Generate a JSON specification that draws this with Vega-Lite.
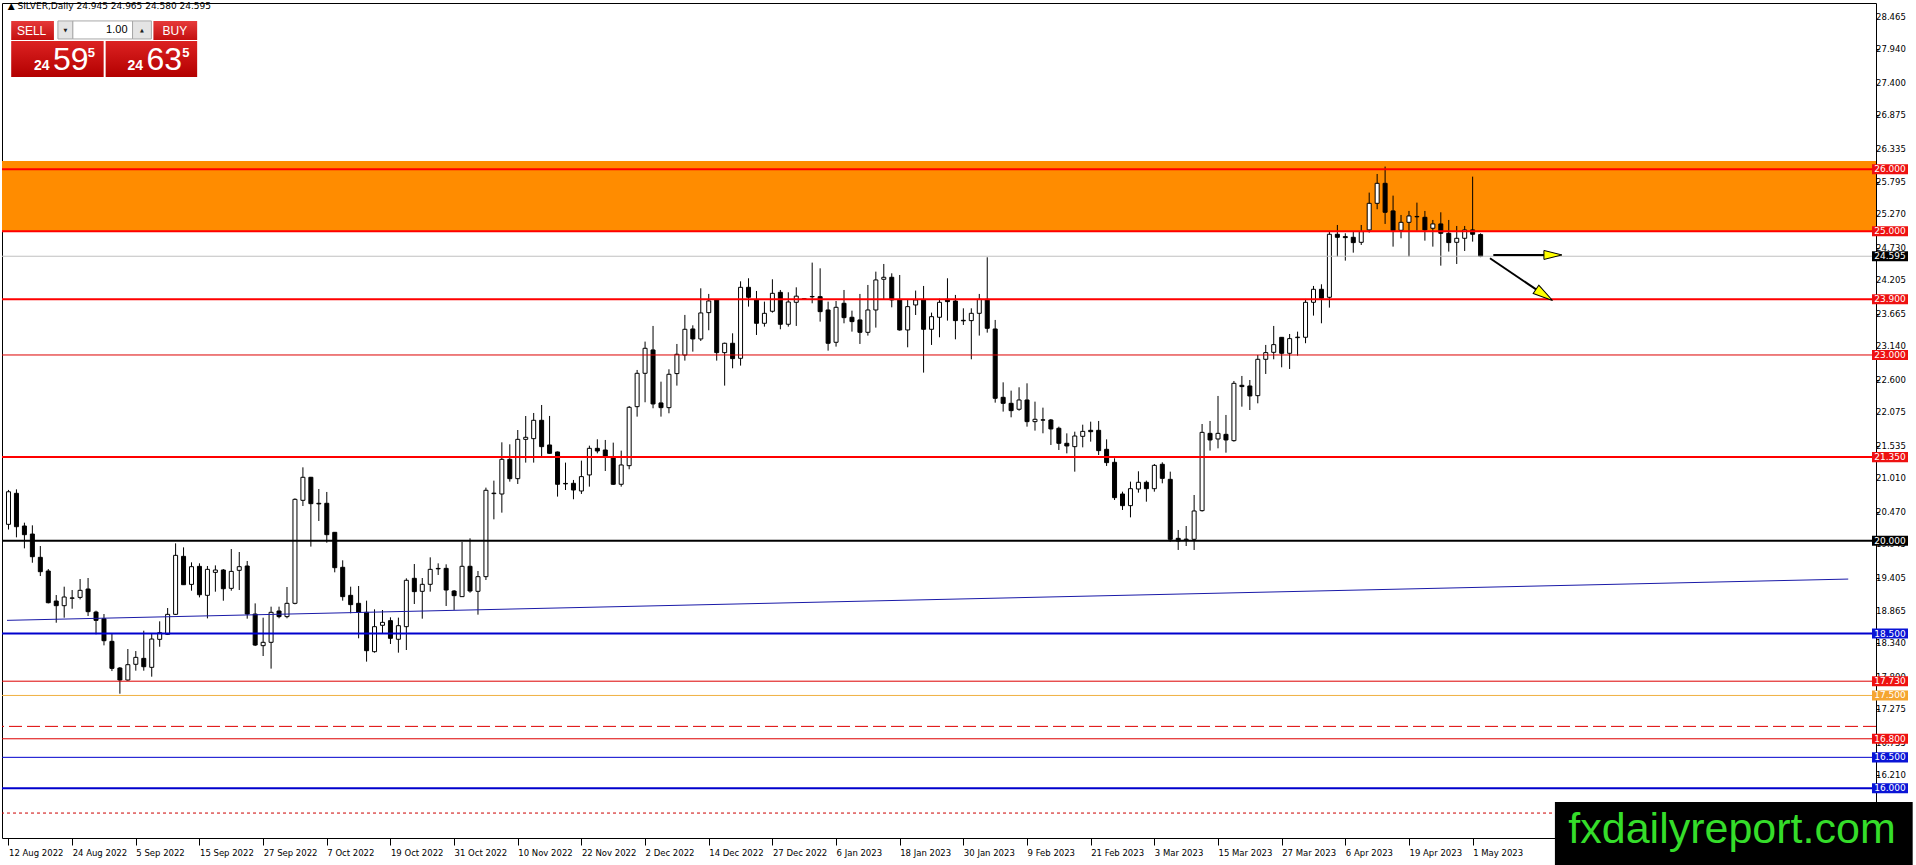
{
  "$schema": "https://vega.github.io/schema/vega-lite/v6.json",
  "width": 1874,
  "height": 835,
  "autosize": {"type": "none"},
  "padding": {"left": 2, "top": 3, "right": 40, "bottom": 27},
  "background": "white",
  "config": {
    "view": {"stroke": "black", "strokeWidth": 1},
    "axis": {"grid": false, "domain": false, "labelFont": "DejaVu Sans", "labelColor": "black", "tickColor": "black", "labelOverlap": false, "labelFlush": false, "labelBound": false},
    "text": {"font": "DejaVu Sans"}
  },
  "datasets": {
    "bars": [
      {"i":0,"o":20.264,"h":20.82,"l":20.18,"c":20.79},
      {"i":1,"o":20.765,"h":20.829,"l":20.054,"c":20.226},
      {"i":2,"o":20.237,"h":20.291,"l":19.876,"c":20.097},
      {"i":3,"o":20.107,"h":20.248,"l":19.644,"c":19.741},
      {"i":4,"o":19.731,"h":19.914,"l":19.429,"c":19.499},
      {"i":5,"o":19.51,"h":19.542,"l":18.987,"c":18.998},
      {"i":6,"o":19.025,"h":19.122,"l":18.675,"c":18.95},
      {"i":7,"o":18.95,"h":19.257,"l":18.756,"c":19.09},
      {"i":8,"o":19.07,"h":19.203,"l":18.901,"c":19.075},
      {"i":9,"o":19.084,"h":19.381,"l":19.052,"c":19.198},
      {"i":10,"o":19.219,"h":19.397,"l":18.783,"c":18.853},
      {"i":11,"o":18.847,"h":18.869,"l":18.487,"c":18.713},
      {"i":12,"o":18.74,"h":18.815,"l":18.309,"c":18.384},
      {"i":13,"o":18.374,"h":18.503,"l":17.894,"c":17.937},
      {"i":14,"o":17.943,"h":17.959,"l":17.528,"c":17.749},
      {"i":15,"o":17.749,"h":18.25,"l":17.738,"c":17.997},
      {"i":16,"o":18.003,"h":18.217,"l":17.9,"c":18.115},
      {"i":17,"o":18.099,"h":18.546,"l":17.9,"c":17.964},
      {"i":18,"o":17.954,"h":18.503,"l":17.803,"c":18.411},
      {"i":19,"o":18.406,"h":18.697,"l":18.287,"c":18.513},
      {"i":20,"o":18.487,"h":18.912,"l":18.476,"c":18.81},
      {"i":21,"o":18.81,"h":19.957,"l":18.799,"c":19.763},
      {"i":22,"o":19.747,"h":19.892,"l":19.284,"c":19.289},
      {"i":23,"o":19.294,"h":19.65,"l":19.192,"c":19.58},
      {"i":24,"o":19.585,"h":19.634,"l":19.084,"c":19.127},
      {"i":25,"o":19.117,"h":19.591,"l":18.745,"c":19.537},
      {"i":26,"o":19.488,"h":19.601,"l":19.176,"c":19.526},
      {"i":27,"o":19.526,"h":19.542,"l":19.03,"c":19.224},
      {"i":28,"o":19.23,"h":19.865,"l":19.192,"c":19.504},
      {"i":29,"o":19.521,"h":19.817,"l":19.203,"c":19.58},
      {"i":30,"o":19.591,"h":19.672,"l":18.74,"c":18.815},
      {"i":31,"o":18.815,"h":18.987,"l":18.298,"c":18.314},
      {"i":32,"o":18.304,"h":18.756,"l":18.137,"c":18.358},
      {"i":33,"o":18.358,"h":18.934,"l":17.933,"c":18.843},
      {"i":34,"o":18.864,"h":18.934,"l":18.746,"c":18.773},
      {"i":35,"o":18.773,"h":19.252,"l":18.746,"c":18.988},
      {"i":36,"o":18.988,"h":20.684,"l":18.972,"c":20.668},
      {"i":37,"o":20.652,"h":21.185,"l":20.56,"c":21.024},
      {"i":38,"o":21.024,"h":21.03,"l":19.904,"c":20.598},
      {"i":39,"o":20.604,"h":20.835,"l":20.318,"c":20.594},
      {"i":40,"o":20.604,"h":20.787,"l":19.968,"c":20.097},
      {"i":41,"o":20.135,"h":20.14,"l":19.489,"c":19.564},
      {"i":42,"o":19.57,"h":19.683,"l":19.031,"c":19.096},
      {"i":43,"o":19.117,"h":19.257,"l":18.827,"c":18.967},
      {"i":44,"o":18.988,"h":19.268,"l":18.423,"c":18.843},
      {"i":45,"o":18.843,"h":19.031,"l":18.046,"c":18.223},
      {"i":46,"o":18.207,"h":18.891,"l":18.191,"c":18.611},
      {"i":47,"o":18.633,"h":18.88,"l":18.503,"c":18.681},
      {"i":48,"o":18.708,"h":18.762,"l":18.331,"c":18.423},
      {"i":49,"o":18.407,"h":18.757,"l":18.191,"c":18.627},
      {"i":50,"o":18.611,"h":19.392,"l":18.234,"c":19.36},
      {"i":51,"o":19.392,"h":19.623,"l":18.977,"c":19.177},
      {"i":52,"o":19.182,"h":19.397,"l":18.74,"c":19.295},
      {"i":53,"o":19.295,"h":19.731,"l":19.177,"c":19.537},
      {"i":54,"o":19.552,"h":19.634,"l":19.446,"c":19.545},
      {"i":55,"o":19.553,"h":19.618,"l":18.945,"c":19.203},
      {"i":56,"o":19.187,"h":19.203,"l":18.881,"c":19.112},
      {"i":57,"o":19.096,"h":19.979,"l":19.09,"c":19.586},
      {"i":58,"o":19.586,"h":20.038,"l":19.16,"c":19.187},
      {"i":59,"o":19.182,"h":19.51,"l":18.805,"c":19.419},
      {"i":60,"o":19.419,"h":20.857,"l":19.365,"c":20.814},
      {"i":61,"o":20.76,"h":20.97,"l":20.345,"c":20.768},
      {"i":62,"o":20.754,"h":21.589,"l":20.453,"c":21.314},
      {"i":63,"o":21.314,"h":21.557,"l":20.954,"c":21.002},
      {"i":64,"o":21.002,"h":21.788,"l":20.916,"c":21.637},
      {"i":65,"o":21.637,"h":22.014,"l":21.261,"c":21.67},
      {"i":66,"o":21.648,"h":22.063,"l":21.261,"c":21.945},
      {"i":67,"o":21.945,"h":22.192,"l":21.368,"c":21.519},
      {"i":68,"o":21.546,"h":22.015,"l":21.405,"c":21.411},
      {"i":69,"o":21.433,"h":21.44,"l":20.712,"c":20.911},
      {"i":70,"o":20.925,"h":21.261,"l":20.819,"c":20.918},
      {"i":71,"o":20.927,"h":20.981,"l":20.669,"c":20.819},
      {"i":72,"o":20.803,"h":21.293,"l":20.755,"c":21.035},
      {"i":73,"o":21.062,"h":21.535,"l":20.873,"c":21.492},
      {"i":74,"o":21.492,"h":21.638,"l":21.411,"c":21.449},
      {"i":75,"o":21.465,"h":21.627,"l":21.126,"c":21.347},
      {"i":76,"o":21.347,"h":21.584,"l":20.9,"c":20.911},
      {"i":77,"o":20.911,"h":21.455,"l":20.873,"c":21.223},
      {"i":78,"o":21.212,"h":22.176,"l":21.153,"c":22.155},
      {"i":79,"o":22.165,"h":22.758,"l":22.004,"c":22.704},
      {"i":80,"o":22.704,"h":23.216,"l":22.236,"c":23.108},
      {"i":81,"o":23.081,"h":23.469,"l":22.139,"c":22.209},
      {"i":82,"o":22.225,"h":22.569,"l":22.004,"c":22.149},
      {"i":83,"o":22.149,"h":22.769,"l":22.058,"c":22.688},
      {"i":84,"o":22.699,"h":23.178,"l":22.505,"c":23.011},
      {"i":85,"o":22.999,"h":23.647,"l":22.909,"c":23.415},
      {"i":86,"o":23.42,"h":23.479,"l":23.054,"c":23.259},
      {"i":87,"o":23.259,"h":24.077,"l":23.226,"c":23.679},
      {"i":88,"o":23.684,"h":23.986,"l":23.399,"c":23.873},
      {"i":89,"o":23.889,"h":23.895,"l":22.909,"c":23.038},
      {"i":90,"o":23.038,"h":23.199,"l":22.505,"c":23.189},
      {"i":91,"o":23.189,"h":23.35,"l":22.785,"c":22.941},
      {"i":92,"o":22.946,"h":24.19,"l":22.828,"c":24.093},
      {"i":93,"o":24.093,"h":24.239,"l":23.781,"c":23.932},
      {"i":94,"o":23.889,"h":24.034,"l":23.323,"c":23.512},
      {"i":95,"o":23.512,"h":23.862,"l":23.458,"c":23.673},
      {"i":96,"o":23.706,"h":24.223,"l":23.684,"c":23.996},
      {"i":97,"o":24.012,"h":24.05,"l":23.415,"c":23.496},
      {"i":98,"o":23.496,"h":24.013,"l":23.458,"c":23.856},
      {"i":99,"o":23.851,"h":24.093,"l":23.469,"c":23.95},
      {"i":100,"o":23.9,"h":23.92,"l":23.89,"c":23.91},
      {"i":101,"o":23.94,"h":24.492,"l":23.835,"c":23.945},
      {"i":102,"o":23.942,"h":24.4,"l":23.539,"c":23.7},
      {"i":103,"o":23.727,"h":23.862,"l":23.07,"c":23.189},
      {"i":104,"o":23.205,"h":23.872,"l":23.135,"c":23.77},
      {"i":105,"o":23.835,"h":24.05,"l":23.512,"c":23.603},
      {"i":106,"o":23.609,"h":23.716,"l":23.377,"c":23.539},
      {"i":107,"o":23.566,"h":23.986,"l":23.178,"c":23.366},
      {"i":108,"o":23.366,"h":24.131,"l":23.313,"c":23.727},
      {"i":109,"o":23.727,"h":24.346,"l":23.442,"c":24.212},
      {"i":110,"o":24.223,"h":24.47,"l":23.889,"c":24.255},
      {"i":111,"o":24.255,"h":24.319,"l":23.77,"c":23.889},
      {"i":112,"o":23.889,"h":24.292,"l":23.393,"c":23.404},
      {"i":113,"o":23.404,"h":23.889,"l":23.124,"c":23.781},
      {"i":114,"o":23.808,"h":24.04,"l":23.646,"c":23.889},
      {"i":115,"o":23.889,"h":24.115,"l":22.715,"c":23.415},
      {"i":116,"o":23.415,"h":23.684,"l":23.162,"c":23.619},
      {"i":117,"o":23.609,"h":23.91,"l":23.286,"c":23.851},
      {"i":118,"o":23.899,"h":24.239,"l":23.555,"c":23.862},
      {"i":119,"o":23.872,"h":23.97,"l":23.253,"c":23.555},
      {"i":120,"o":23.56,"h":23.754,"l":23.485,"c":23.552},
      {"i":121,"o":23.555,"h":23.754,"l":22.93,"c":23.673},
      {"i":122,"o":23.673,"h":23.986,"l":23.313,"c":23.899},
      {"i":123,"o":23.899,"h":24.578,"l":23.361,"c":23.431},
      {"i":124,"o":23.42,"h":23.566,"l":22.23,"c":22.3},
      {"i":125,"o":22.316,"h":22.558,"l":22.085,"c":22.219},
      {"i":126,"o":22.219,"h":22.424,"l":21.993,"c":22.101},
      {"i":127,"o":22.123,"h":22.478,"l":22.1,"c":22.273},
      {"i":128,"o":22.273,"h":22.542,"l":21.842,"c":21.923},
      {"i":129,"o":21.923,"h":22.246,"l":21.778,"c":21.961},
      {"i":130,"o":21.952,"h":22.149,"l":21.735,"c":21.948},
      {"i":131,"o":21.95,"h":21.966,"l":21.546,"c":21.805},
      {"i":132,"o":21.816,"h":21.842,"l":21.465,"c":21.573},
      {"i":133,"o":21.573,"h":21.734,"l":21.411,"c":21.53},
      {"i":134,"o":21.519,"h":21.761,"l":21.115,"c":21.691},
      {"i":135,"o":21.686,"h":21.874,"l":21.508,"c":21.766},
      {"i":136,"o":21.783,"h":21.923,"l":21.6,"c":21.761},
      {"i":137,"o":21.783,"h":21.934,"l":21.384,"c":21.455},
      {"i":138,"o":21.476,"h":21.637,"l":21.207,"c":21.261},
      {"i":139,"o":21.266,"h":21.331,"l":20.657,"c":20.695},
      {"i":140,"o":20.754,"h":20.792,"l":20.496,"c":20.566},
      {"i":141,"o":20.566,"h":20.954,"l":20.377,"c":20.84},
      {"i":142,"o":20.835,"h":21.121,"l":20.776,"c":20.943},
      {"i":143,"o":20.943,"h":20.97,"l":20.63,"c":20.84},
      {"i":144,"o":20.84,"h":21.239,"l":20.792,"c":21.217},
      {"i":145,"o":21.234,"h":21.266,"l":20.927,"c":21.007},
      {"i":146,"o":20.991,"h":21.115,"l":19.984,"c":20.022},
      {"i":147,"o":20.038,"h":20.173,"l":19.85,"c":19.995},
      {"i":148,"o":20.015,"h":20.237,"l":19.914,"c":20.025},
      {"i":149,"o":20.022,"h":20.738,"l":19.85,"c":20.48},
      {"i":150,"o":20.485,"h":21.885,"l":20.47,"c":21.75},
      {"i":151,"o":21.734,"h":21.934,"l":21.455,"c":21.627},
      {"i":152,"o":21.643,"h":22.338,"l":21.492,"c":21.734},
      {"i":153,"o":21.718,"h":22.031,"l":21.422,"c":21.627},
      {"i":154,"o":21.616,"h":22.58,"l":21.6,"c":22.542},
      {"i":155,"o":22.51,"h":22.661,"l":22.165,"c":22.489},
      {"i":156,"o":22.499,"h":22.596,"l":22.111,"c":22.338},
      {"i":157,"o":22.343,"h":23.0,"l":22.219,"c":22.93},
      {"i":158,"o":22.93,"h":23.162,"l":22.693,"c":23.038},
      {"i":159,"o":23.043,"h":23.469,"l":22.93,"c":23.167},
      {"i":160,"o":23.285,"h":23.29,"l":22.801,"c":23.027},
      {"i":161,"o":23.027,"h":23.339,"l":22.774,"c":23.264},
      {"i":162,"o":23.28,"h":23.377,"l":22.989,"c":23.288},
      {"i":163,"o":23.286,"h":23.905,"l":23.19,"c":23.851},
      {"i":164,"o":23.851,"h":24.115,"l":23.636,"c":24.061},
      {"i":165,"o":24.061,"h":24.142,"l":23.512,"c":23.916},
      {"i":166,"o":23.932,"h":24.993,"l":23.765,"c":24.95},
      {"i":167,"o":24.95,"h":25.1,"l":24.589,"c":24.901},
      {"i":168,"o":24.912,"h":24.966,"l":24.524,"c":24.896},
      {"i":169,"o":24.901,"h":24.993,"l":24.653,"c":24.815},
      {"i":170,"o":24.82,"h":25.1,"l":24.777,"c":24.993},
      {"i":171,"o":25.02,"h":25.623,"l":24.977,"c":25.45},
      {"i":172,"o":25.45,"h":25.924,"l":25.354,"c":25.773},
      {"i":173,"o":25.773,"h":26.043,"l":25.117,"c":25.305},
      {"i":174,"o":25.327,"h":25.574,"l":24.75,"c":25.009},
      {"i":175,"o":25.014,"h":25.262,"l":24.885,"c":25.143},
      {"i":176,"o":25.143,"h":25.327,"l":24.589,"c":25.246},
      {"i":177,"o":25.232,"h":25.461,"l":25.009,"c":25.238},
      {"i":178,"o":25.224,"h":25.327,"l":24.847,"c":25.02},
      {"i":179,"o":25.047,"h":25.181,"l":24.75,"c":25.117},
      {"i":180,"o":25.117,"h":25.305,"l":24.443,"c":24.966},
      {"i":181,"o":24.966,"h":25.181,"l":24.67,"c":24.815},
      {"i":182,"o":24.82,"h":25.084,"l":24.47,"c":24.885},
      {"i":183,"o":24.885,"h":25.084,"l":24.68,"c":25.02},
      {"i":184,"o":25.02,"h":25.881,"l":24.831,"c":24.95},
      {"i":185,"o":24.945,"h":24.965,"l":24.58,"c":24.595}
    ],
    "levels": [
      {"level": 26.0, "kind": "res"},
      {"level": 25.0, "kind": "res"},
      {"level": 24.595, "kind": "price"},
      {"level": 23.9, "kind": "res"},
      {"level": 23.0, "kind": "thin"},
      {"level": 21.35, "kind": "res"},
      {"level": 20.0, "kind": "pivot"},
      {"level": 18.5, "kind": "sup"},
      {"level": 17.73, "kind": "thin"},
      {"level": 17.5, "kind": "gold"},
      {"level": 16.8, "kind": "thin"},
      {"level": 16.5, "kind": "supThin"},
      {"level": 16.0, "kind": "sup"}
    ],
    "yticks": [
      {"v": 28.465}, {"v": 27.94}, {"v": 27.4}, {"v": 26.875}, {"v": 26.335}, {"v": 25.795},
      {"v": 25.27}, {"v": 24.73}, {"v": 24.205}, {"v": 23.665}, {"v": 23.14}, {"v": 22.6},
      {"v": 22.075}, {"v": 21.535}, {"v": 21.01}, {"v": 20.47}, {"v": 19.945}, {"v": 19.405},
      {"v": 18.865}, {"v": 18.34}, {"v": 17.8}, {"v": 17.275}, {"v": 16.735}, {"v": 16.21}
    ]
  },
  "layer": [
    {
      "data": {"values": [{"lo": 25.0, "hi": 26.134}]},
      "mark": {"type": "rect", "color": "#ff8c00"},
      "encoding": {
        "y": {
          "field": "hi", "type": "quantitative", "title": null,
          "scale": {"domain": [15.197, 28.686], "nice": false, "zero": false},
          "axis": {
            "orient": "right",
            "values": [28.465, 27.94, 27.4, 26.875, 26.335, 25.795, 25.27, 24.73, 24.205, 23.665, 23.14, 22.6, 22.075, 21.535, 21.01, 20.47, 19.945, 19.405, 18.865, 18.34, 17.8, 17.275, 16.735, 16.21],
            "labels": false, "tickSize": 3, "title": null
          }
        },
        "y2": {"field": "lo"}
      }
    },
    {
      "data": {"name": "bars"},
      "mark": {"type": "rule", "color": "black", "strokeWidth": 1},
      "encoding": {
        "x": {
          "field": "i", "type": "quantitative", "title": null,
          "scale": {"domain": [-0.1875, 234.0625], "nice": false, "zero": false},
          "axis": {
            "orient": "bottom",
            "values": [0, 8, 16, 24, 32, 40, 48, 56, 64, 72, 80, 88, 96, 104, 112, 120, 128, 136, 144, 152, 160, 168, 176, 184],
            "labelExpr": "['12 Aug 2022','24 Aug 2022','5 Sep 2022','15 Sep 2022','27 Sep 2022','7 Oct 2022','19 Oct 2022','31 Oct 2022','10 Nov 2022','22 Nov 2022','2 Dec 2022','14 Dec 2022','27 Dec 2022','6 Jan 2023','18 Jan 2023','30 Jan 2023','9 Feb 2023','21 Feb 2023','3 Mar 2023','15 Mar 2023','27 Mar 2023','6 Apr 2023','19 Apr 2023','1 May 2023'][round(datum.value / 8)]",
            "tickSize": 7, "labelPadding": 3, "labelAlign": "left", "labelBaseline": "top", "labelDx": 1,
            "labelFontSize": 8.5, "labelFlush": false, "labelOverlap": false, "labelBound": false, "title": null
          }
        },
        "y": {"field": "l", "type": "quantitative", "title": null},
        "y2": {"field": "h"}
      }
    },
    {
      "data": {"name": "yticks"},
      "mark": {"type": "text", "color": "black", "fontSize": 8.5, "align": "left", "baseline": "middle"},
      "encoding": {
        "x": {"datum": 234.7},
        "y": {"field": "v", "type": "quantitative", "title": null},
        "text": {"field": "v", "format": ".3f"}
      }
    },
    {
      "data": {"name": "bars"},
      "mark": {"type": "bar", "size": 4, "stroke": "black", "strokeWidth": 1},
      "encoding": {
        "x": {"field": "i", "type": "quantitative", "title": null},
        "y": {"field": "o", "type": "quantitative", "title": null},
        "y2": {"field": "c"},
        "fill": {"condition": {"test": "datum.c >= datum.o", "value": "white"}, "value": "black"}
      }
    },
    {
      "data": {"name": "levels"},
      "transform": [{"filter": "datum.kind == 'res' || datum.kind == 'pivot' || datum.kind == 'sup'"}],
      "mark": {"type": "rule", "strokeWidth": 2},
      "encoding": {
        "y": {"field": "level", "type": "quantitative", "title": null},
        "stroke": {
          "field": "kind", "type": "nominal", "legend": null,
          "scale": {
            "domain": ["res", "thin", "pivot", "sup", "supThin", "gold", "price"],
            "range": ["#ff0000", "#dd0000", "#000000", "#0000cd", "#0000cd", "#f0b040", "#c0c0c0"]
          }
        }
      }
    },
    {
      "data": {"name": "levels"},
      "transform": [{"filter": "datum.kind == 'thin' || datum.kind == 'supThin' || datum.kind == 'gold' || datum.kind == 'price'"}],
      "mark": {"type": "rule", "strokeWidth": 1},
      "encoding": {
        "y": {"field": "level", "type": "quantitative", "title": null},
        "stroke": {"field": "kind", "type": "nominal", "legend": null}
      }
    },
    {
      "data": {"values": [{"level": 17.0}]},
      "mark": {"type": "rule", "color": "#dd0000", "strokeWidth": 1, "strokeDash": [13, 5]},
      "encoding": {"y": {"field": "level", "type": "quantitative", "title": null}}
    },
    {
      "data": {"values": [{"level": 15.6}]},
      "mark": {"type": "rule", "color": "#cc0000", "strokeWidth": 1, "strokeDash": [3, 3]},
      "encoding": {"y": {"field": "level", "type": "quantitative", "title": null}}
    },
    {
      "data": {"values": [{}]},
      "mark": {"type": "rule", "color": "#1a1aa8", "strokeWidth": 1},
      "encoding": {
        "x": {"datum": -0.1875}, "y": {"datum": 18.713},
        "x2": {"datum": 231.2}, "y2": {"datum": 19.38}
      }
    },
    {
      "data": {"values": [{}]},
      "mark": {"type": "rule", "color": "black", "strokeWidth": 2},
      "encoding": {
        "x": {"datum": 186.6}, "y": {"datum": 24.616},
        "x2": {"datum": 193.0}, "y2": {"datum": 24.616}
      }
    },
    {
      "data": {"values": [{}]},
      "mark": {"type": "rule", "color": "black", "strokeWidth": 2},
      "encoding": {
        "x": {"datum": 186.18}, "y": {"datum": 24.562},
        "x2": {"datum": 193.0}, "y2": {"datum": 23.97}
      }
    },
    {
      "data": {"values": [{}]},
      "mark": {"type": "point", "shape": "M-1,-0.5L1,0L-1,0.5Z", "size": 324, "filled": true, "fill": "#ffff00", "stroke": "black", "strokeWidth": 1, "opacity": 1},
      "encoding": {"x": {"datum": 194.09}, "y": {"datum": 24.616}}
    },
    {
      "data": {"values": [{}]},
      "mark": {"type": "point", "shape": "M-1,-0.5L1,0L-1,0.5Z", "size": 400, "angle": 34, "filled": true, "fill": "#ffff00", "stroke": "black", "strokeWidth": 1, "opacity": 1},
      "encoding": {"x": {"datum": 193.0}, "y": {"datum": 23.97}}
    },
    {
      "data": {"name": "levels"},
      "mark": {"type": "point", "shape": "M-1,-0.28L1,-0.28L1,0.28L-1,0.28Z", "size": 1296, "filled": true, "opacity": 1, "strokeWidth": 0},
      "encoding": {
        "x": {"datum": 236.45},
        "y": {"field": "level", "type": "quantitative", "title": null},
        "fill": {
          "field": "kind", "type": "nominal", "legend": null,
          "scale": {
            "domain": ["res", "thin", "pivot", "sup", "supThin", "gold", "price"],
            "range": ["#ee1111", "#ee1111", "#000000", "#0a14d6", "#0a14d6", "#f5a530", "#000000"]
          }
        }
      }
    },
    {
      "data": {"name": "levels"},
      "mark": {"type": "text", "color": "white", "fontSize": 9, "align": "center", "baseline": "middle"},
      "encoding": {
        "x": {"datum": 236.45},
        "y": {"field": "level", "type": "quantitative", "title": null},
        "text": {"field": "level", "format": ".3f"}
      }
    },
    {
      "data": {"values": [{}]},
      "mark": {"type": "text", "text": "▲ SILVER,Daily  24.945 24.965 24.580 24.595", "color": "black", "fontSize": 9, "align": "left", "baseline": "middle"},
      "encoding": {"x": {"datum": -0.1}, "y": {"datum": 28.63}}
    },
    {
      "data": {"values": [{}]},
      "mark": {"type": "rect", "color": {"gradient": "linear", "x1": 0, "y1": 0, "x2": 0, "y2": 1, "stops": [{"offset": 0, "color": "#e63a3a"}, {"offset": 1, "color": "#c40f0f"}]}},
      "encoding": {"x": {"datum": 0.34}, "x2": {"datum": 5.71}, "y": {"datum": 28.396}, "y2": {"datum": 28.089}}
    },
    {
      "data": {"values": [{}]},
      "mark": {"type": "rect", "color": {"gradient": "linear", "x1": 0, "y1": 0, "x2": 0, "y2": 1, "stops": [{"offset": 0, "color": "#e63a3a"}, {"offset": 1, "color": "#c40f0f"}]}},
      "encoding": {"x": {"datum": 18.21}, "x2": {"datum": 23.71}, "y": {"datum": 28.396}, "y2": {"datum": 28.089}}
    },
    {
      "data": {"values": [{}]},
      "mark": {"type": "rect", "fill": "#e4e4e4", "stroke": "#a8a8a8", "strokeWidth": 1},
      "encoding": {"x": {"datum": 6.21}, "x2": {"datum": 8.09}, "y": {"datum": 28.396}, "y2": {"datum": 28.105}}
    },
    {
      "data": {"values": [{}]},
      "mark": {"type": "rect", "fill": "white", "stroke": "#a8a8a8", "strokeWidth": 1},
      "encoding": {"x": {"datum": 8.09}, "x2": {"datum": 15.59}, "y": {"datum": 28.396}, "y2": {"datum": 28.105}}
    },
    {
      "data": {"values": [{}]},
      "mark": {"type": "rect", "fill": "#e4e4e4", "stroke": "#a8a8a8", "strokeWidth": 1},
      "encoding": {"x": {"datum": 15.59}, "x2": {"datum": 17.96}, "y": {"datum": 28.396}, "y2": {"datum": 28.105}}
    },
    {
      "data": {"values": [{}]},
      "mark": {"type": "rect", "color": {"gradient": "linear", "x1": 0, "y1": 0, "x2": 0, "y2": 1, "stops": [{"offset": 0, "color": "#dc2222"}, {"offset": 1, "color": "#b30000"}]}},
      "encoding": {"x": {"datum": 0.34}, "x2": {"datum": 11.96}, "y": {"datum": 28.072}, "y2": {"datum": 27.49}}
    },
    {
      "data": {"values": [{}]},
      "mark": {"type": "rect", "color": {"gradient": "linear", "x1": 0, "y1": 0, "x2": 0, "y2": 1, "stops": [{"offset": 0, "color": "#dc2222"}, {"offset": 1, "color": "#b30000"}]}},
      "encoding": {"x": {"datum": 12.21}, "x2": {"datum": 23.71}, "y": {"datum": 28.072}, "y2": {"datum": 27.49}}
    },
    {
      "data": {"values": [{}]},
      "mark": {"type": "text", "text": "SELL", "color": "white", "fontSize": 12, "font": "Liberation Sans", "align": "center", "baseline": "middle"},
      "encoding": {"x": {"datum": 2.9}, "y": {"datum": 28.24}}
    },
    {
      "data": {"values": [{}]},
      "mark": {"type": "text", "text": "BUY", "color": "white", "fontSize": 12, "font": "Liberation Sans", "align": "center", "baseline": "middle"},
      "encoding": {"x": {"datum": 20.9}, "y": {"datum": 28.24}}
    },
    {
      "data": {"values": [{}]},
      "mark": {"type": "text", "text": "1.00", "color": "black", "fontSize": 11, "font": "Liberation Sans", "align": "right", "baseline": "middle"},
      "encoding": {"x": {"datum": 14.96}, "y": {"datum": 28.25}}
    },
    {
      "data": {"values": [{}]},
      "mark": {"type": "text", "text": "▼", "color": "#202020", "fontSize": 5, "align": "center", "baseline": "middle"},
      "encoding": {"x": {"datum": 7.15}, "y": {"datum": 28.25}}
    },
    {
      "data": {"values": [{}]},
      "mark": {"type": "text", "text": "▲", "color": "#202020", "fontSize": 5, "align": "center", "baseline": "middle"},
      "encoding": {"x": {"datum": 16.78}, "y": {"datum": 28.25}}
    },
    {
      "data": {"values": [{}]},
      "mark": {"type": "text", "text": "24", "color": "white", "fontSize": 14, "fontWeight": "bold", "font": "Liberation Sans", "align": "left", "baseline": "alphabetic"},
      "encoding": {"x": {"datum": 3.21}, "y": {"datum": 27.604}}
    },
    {
      "data": {"values": [{}]},
      "mark": {"type": "text", "text": "59", "color": "white", "fontSize": 32, "font": "Liberation Sans", "align": "left", "baseline": "alphabetic"},
      "encoding": {"x": {"datum": 5.59}, "y": {"datum": 27.604}}
    },
    {
      "data": {"values": [{}]},
      "mark": {"type": "text", "text": "5", "color": "white", "fontSize": 13, "fontWeight": "bold", "font": "Liberation Sans", "align": "left", "baseline": "alphabetic"},
      "encoding": {"x": {"datum": 9.96}, "y": {"datum": 27.814}}
    },
    {
      "data": {"values": [{}]},
      "mark": {"type": "text", "text": "24", "color": "white", "fontSize": 14, "fontWeight": "bold", "font": "Liberation Sans", "align": "left", "baseline": "alphabetic"},
      "encoding": {"x": {"datum": 14.96}, "y": {"datum": 27.604}}
    },
    {
      "data": {"values": [{}]},
      "mark": {"type": "text", "text": "63", "color": "white", "fontSize": 32, "font": "Liberation Sans", "align": "left", "baseline": "alphabetic"},
      "encoding": {"x": {"datum": 17.34}, "y": {"datum": 27.604}}
    },
    {
      "data": {"values": [{}]},
      "mark": {"type": "text", "text": "5", "color": "white", "fontSize": 13, "fontWeight": "bold", "font": "Liberation Sans", "align": "left", "baseline": "alphabetic"},
      "encoding": {"x": {"datum": 21.84}, "y": {"datum": 27.814}}
    },
    {
      "data": {"values": [{}]},
      "mark": {"type": "rect", "color": "black"},
      "encoding": {"x": {"datum": 194.34}, "x2": {"datum": 239.3}, "y": {"datum": 15.778}, "y2": {"datum": 14.7}}
    },
    {
      "data": {"values": [{}]},
      "mark": {"type": "text", "text": "fxdailyreport.com", "color": "#35dd2a", "fontSize": 43, "font": "Liberation Sans", "align": "center", "baseline": "alphabetic"},
      "encoding": {"x": {"datum": 216.6}, "y": {"datum": 15.116}}
    }
  ]
}
